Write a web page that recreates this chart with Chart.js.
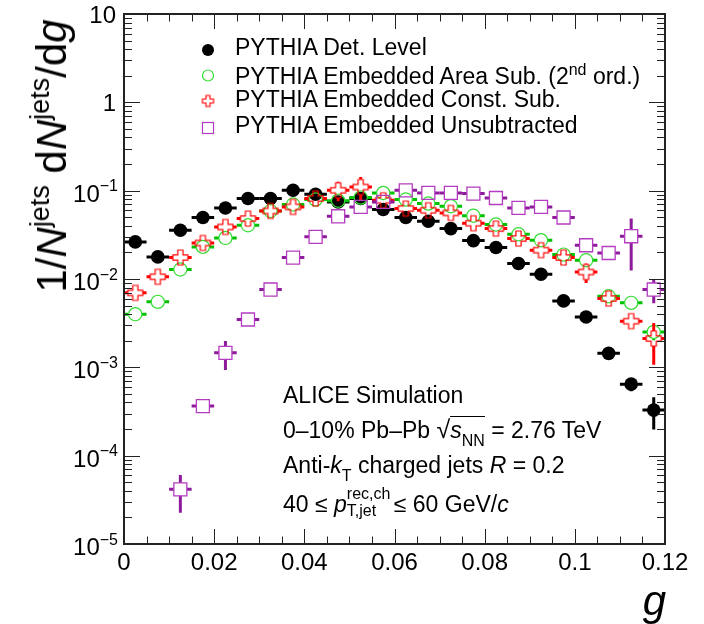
<!DOCTYPE html>
<html>
<head>
<meta charset="utf-8">
<script src="https://cdn.jsdelivr.net/npm/chart.js@4.4.1/dist/chart.umd.min.js"></script>
<style>
  html, body { margin: 0; padding: 0; background: #fff; }
  #wrap { position: relative; width: 704px; height: 624px; overflow: hidden;
          font-family: "Liberation Sans", Arial, Helvetica, sans-serif; color: #000; }
  #plot { position: absolute; left: 0; top: 0; }
  .t { position: absolute; white-space: nowrap; line-height: 1; font-size: 23px; }
  .sub { font-size: 16px; vertical-align: -8px; }
  .sup { font-size: 16px; vertical-align: 9px; }
  .rad { font-size: 25px; }
  .over { border-top: 1.2px solid #000; padding-top: 0px; }
  .stack { display: inline-block; position: relative; width: 47px; height: 1em; }
  .stack .up { position: absolute; left: 0; top: -3px; font-size: 16px; }
  .stack .dn { position: absolute; left: 0; top: 14px; font-size: 16px; }
  #ytitle { position: absolute; left: 50px; top: 156px; font-size: 42px; line-height: 1;
            white-space: nowrap; transform: translate(-50%, -50%) rotate(-90deg); }
  #ytitle .sp { font-size: 27px; vertical-align: 17px; }
  #xtitle { position: absolute; right: 38px; top: 580px; font-size: 42px; line-height: 1; font-style: italic; }
</style>
</head>
<body>
<div id="wrap">
  <canvas id="plot" width="704" height="624" style="width:704px;height:624px"></canvas>

  <div id="ytitle">1/<i>N</i><span class="sp">jets</span> d<i>N</i><span class="sp">jets</span>/d<i>g</i></div>
  <div id="xtitle">g</div>

  <div class="t" style="left:235px; top:36px">PYTHIA Det. Level</div>
  <div class="t" style="left:235px; top:62px">PYTHIA Embedded Area Sub. (2<span class="sup">nd</span> ord.)</div>
  <div class="t" style="left:235px; top:88px">PYTHIA Embedded Const. Sub.</div>
  <div class="t" style="left:235px; top:114px">PYTHIA Embedded Unsubtracted</div>

  <div class="t" style="left:283px; top:384px">ALICE Simulation</div>
  <div class="t" style="left:283px; top:417px">0–10% Pb–Pb <span class="rad">√</span><span class="over"><i>s</i><span class="sub">NN</span></span> = 2.76 TeV</div>
  <div class="t" style="left:283px; top:454px">Anti-<i>k</i><span class="sub">T</span> charged jets <i>R</i> = 0.2</div>
  <div class="t" style="left:283px; top:489px">40 ≤ <i>p</i><span class="stack"><span class="up">rec,ch</span><span class="dn">T,jet</span></span>≤ 60 GeV/<i>c</i></div>
</div>

<script>
// Bin centres of the g distribution (bin width 0.005)
const gCenters = [0.0025, 0.0075, 0.0125, 0.0175, 0.0225, 0.0275, 0.0325, 0.0375,
                  0.0425, 0.0475, 0.0525, 0.0575, 0.0625, 0.0675, 0.0725, 0.0775,
                  0.0825, 0.0875, 0.0925, 0.0975, 0.1025, 0.1075, 0.1125, 0.1175];
const binHalfWidth = 0.0025;

// 1/N dN/dg per bin, with statistical uncertainties
const detLevel = [0.0263, 0.0178, 0.0356, 0.0497, 0.0637, 0.0815, 0.0815, 0.101,
                  0.091, 0.0745, 0.0815, 0.0611, 0.0497, 0.0451, 0.0372, 0.0272,
                  0.0227, 0.0150, 0.0113, 0.00565, 0.00372, 0.00144, 0.000645, 0.000328];
const detLevelErr = [0.0005, 0.0004, 0.0006, 0.0008, 0.0009, 0.001, 0.001, 0.0012,
                     0.0011, 0.001, 0.001, 0.0009, 0.0008, 0.0008, 0.0007, 0.0006,
                     0.0005, 0.0004, 0.0003, 0.0002, 0.00018, 0.0001, 0.00011, 0.00013];

const areaSub = [0.0040, 0.00551, 0.0128, 0.0231, 0.0292, 0.0406, 0.0589, 0.0697,
                 0.0793, 0.077, 0.0836, 0.0942, 0.0793, 0.0715, 0.0667, 0.052,
                 0.0414, 0.0321, 0.0275, 0.0189, 0.0163, 0.00638, 0.00537, 0.00252];
const areaSubErr = [0.0002, 0.0003, 0.0005, 0.0007, 0.0008, 0.001, 0.0011, 0.0012,
                    0.0013, 0.0013, 0.0013, 0.0014, 0.0013, 0.0012, 0.0012, 0.0011,
                    0.001, 0.0009, 0.0008, 0.0007, 0.0006, 0.0004, 0.0008, 0.0005];

const constSub = [0.00697, 0.0106, 0.0175, 0.0256, 0.0388, 0.0483, 0.0589, 0.0655,
                  0.0815, 0.101, 0.110, 0.0778, 0.0627, 0.060, 0.056, 0.0428,
                  0.0372, 0.0287, 0.0212, 0.0175, 0.0120, 0.00601, 0.00333, 0.00212];
const constSubErr = [0.0003, 0.0004, 0.0006, 0.0009, 0.0012, 0.0014, 0.0016, 0.0018,
                     0.002, 0.025, 0.033, 0.002, 0.0018, 0.0017, 0.0016, 0.0014,
                     0.0013, 0.0012, 0.001, 0.001, 0.003, 0.0006, 0.0005, 0.00105];

const unsubtracted = [null, null, 4.16e-5, 3.64e-4, 1.46e-3, 3.48e-3, 7.6e-3, 0.0175,
                      0.030, 0.0513, 0.0655, 0.0745, 0.101, 0.0942, 0.0942, 0.0927,
                      0.0826, 0.0637, 0.0655, 0.0497, 0.0241, 0.0197, 0.0305, 0.0076];
const unsubtractedErr = [null, null, 1.9e-5, 4e-5, 5.3e-4, 5e-4, 7e-4, 0.0012,
                         0.0016, 0.002, 0.0022, 0.0024, 0.0028, 0.0027, 0.0027, 0.0027,
                         0.0025, 0.0022, 0.0023, 0.0022, 0.002, 0.0018, 0.018, 0.0023];

// Axis ticks
const xMajorTicks = [0, 0.02, 0.04, 0.06, 0.08, 0.1, 0.12];
const xTickLabels = ['0', '0.02', '0.04', '0.06', '0.08', '0.1', '0.12'];
const xMinorStep = 0.005;
const yDecades = [-5, -4, -3, -2, -1, 0, 1];
const yLabelBase = ['10', '10', '10', '10', '10', '1', '10'];
const yLabelExp = ['\u22125', '\u22124', '\u22123', '\u22122', '\u22121', '', ''];

const FONT = '"Liberation Sans", Arial, Helvetica, sans-serif';

function toPoints(vals, errs) {
  const pts = [];
  vals.forEach((v, i) => { if (v !== null) pts.push({ x: gCenters[i], y: v, e: errs[i] }); });
  return pts;
}

// Open-cross marker
function crossCanvas(half, arm, color, lw) {
  const s = Math.ceil(2 * half + 4);
  const c = document.createElement('canvas');
  c.width = s; c.height = s;
  const g = c.getContext('2d');
  const m = s / 2;
  g.strokeStyle = color; g.lineWidth = lw;
  g.beginPath();
  g.moveTo(m - arm, m - half); g.lineTo(m + arm, m - half); g.lineTo(m + arm, m - arm);
  g.lineTo(m + half, m - arm); g.lineTo(m + half, m + arm); g.lineTo(m + arm, m + arm);
  g.lineTo(m + arm, m + half); g.lineTo(m - arm, m + half); g.lineTo(m - arm, m + arm);
  g.lineTo(m - half, m + arm); g.lineTo(m - half, m - arm); g.lineTo(m - arm, m - arm);
  g.closePath(); g.stroke();
  return c;
}

// Error bars drawn just before each dataset's markers, leaving a gap at the marker
const errorBars = {
  id: 'errorBars',
  beforeDatasetDraw(chart, args) {
    const ds = chart.data.datasets[args.index];
    const xs = chart.scales.x, ys = chart.scales.y, a = chart.chartArea;
    const ctx = chart.ctx;
    ctx.save();
    ctx.beginPath(); ctx.rect(a.left, a.top, a.right - a.left, a.bottom - a.top); ctx.clip();
    ctx.strokeStyle = ds.barColor; ctx.lineWidth = 3; ctx.lineCap = 'butt';
    const h = ds.gap;
    ds.data.forEach(p => {
      const cx = xs.getPixelForValue(p.x), cy = ys.getPixelForValue(p.y);
      const xl = xs.getPixelForValue(p.x - binHalfWidth), xr = xs.getPixelForValue(p.x + binHalfWidth);
      const yt = ys.getPixelForValue(p.y + p.e), yb = ys.getPixelForValue(p.y - p.e);
      ctx.beginPath();
      if (cx - h > xl) { ctx.moveTo(xl, cy); ctx.lineTo(cx - h, cy); }
      if (xr > cx + h) { ctx.moveTo(cx + h, cy); ctx.lineTo(xr, cy); }
      if (yt < cy - h) { ctx.moveTo(cx, cy - h); ctx.lineTo(cx, yt); }
      if (yb > cy + h) { ctx.moveTo(cx, cy + h); ctx.lineTo(cx, yb); }
      ctx.stroke();
    });
    ctx.restore();
  }
};

// Frame, inward ticks, tick labels and legend markers
const frameAxes = {
  id: 'frameAxes',
  afterDraw(chart) {
    const ctx = chart.ctx, a = chart.chartArea;
    const xs = chart.scales.x, ys = chart.scales.y;
    ctx.save();
    ctx.strokeStyle = '#222';
    // ticks
    ctx.lineWidth = 1;
    ctx.beginPath();
    const nMinor = Math.round(0.12 / xMinorStep);
    for (let k = 0; k <= nMinor; k++) {
      const v = k * xMinorStep;
      const major = xMajorTicks.some(t => Math.abs(t - v) < 1e-9);
      const len = major ? 15 : 7.5;
      const px = Math.round(xs.getPixelForValue(v)) + 0.5;
      ctx.moveTo(px, a.bottom); ctx.lineTo(px, a.bottom - len);
      ctx.moveTo(px, a.top); ctx.lineTo(px, a.top + len);
    }
    yDecades.forEach(d => {
      for (let m = 1; m <= 9; m++) {
        const v = m * Math.pow(10, d);
        if (v > 10 + 1e-9) break;
        const len = m === 1 ? 16 : 8;
        const py = Math.round(ys.getPixelForValue(v)) + 0.5;
        ctx.moveTo(a.left, py); ctx.lineTo(a.left + len, py);
        ctx.moveTo(a.right, py); ctx.lineTo(a.right - len, py);
      }
    });
    ctx.stroke();
    // frame
    ctx.lineWidth = 2;
    ctx.strokeRect(a.left, a.top, a.right - a.left, a.bottom - a.top);

    // x tick labels
    ctx.fillStyle = '#000';
    ctx.font = '24px ' + FONT;
    ctx.textAlign = 'center'; ctx.textBaseline = 'alphabetic';
    xMajorTicks.forEach((v, i) => {
      ctx.fillText(xTickLabels[i], xs.getPixelForValue(v), a.bottom + 26);
    });
    // y tick labels
    yDecades.forEach((d, i) => {
      const py = ys.getPixelForValue(Math.pow(10, d));
      const rightEdge = a.left - 6;
      if (yLabelExp[i]) {
        ctx.font = '16px ' + FONT;
        ctx.textAlign = 'right';
        const ew = ctx.measureText(yLabelExp[i]).width;
        ctx.fillText(yLabelExp[i], rightEdge, py + 0.5);
        ctx.font = '24px ' + FONT;
        ctx.fillText(yLabelBase[i], rightEdge - ew, py + 11);
      } else {
        ctx.font = '24px ' + FONT;
        ctx.textAlign = 'right';
        ctx.fillText(yLabelBase[i], rightEdge - 2, py + 8.5);
      }
    });

    // legend markers
    const lx = 208;
    ctx.fillStyle = '#000';
    ctx.beginPath(); ctx.arc(lx, 50, 6, 0, 2 * Math.PI); ctx.fill();
    ctx.strokeStyle = '#33dd33'; ctx.lineWidth = 1.2;
    ctx.beginPath(); ctx.arc(lx, 75.5, 5.5, 0, 2 * Math.PI); ctx.stroke();
    ctx.drawImage(crossCanvas(5.5, 2, '#ff0000', 1.2), lx - 7.5, 101 - 7.5);
    ctx.strokeStyle = '#b43cc0'; ctx.lineWidth = 1.2;
    ctx.strokeRect(lx - 5.5, 128 - 5.5, 11, 11);
    ctx.restore();
  }
};

const crossMarker = crossCanvas(7.5, 2.6, '#ff0000', 1.2);

new Chart(document.getElementById('plot'), {
  type: 'scatter',
  data: {
    datasets: [
      {
        label: 'PYTHIA Det. Level',
        data: toPoints(detLevel, detLevelErr),
        pointStyle: 'circle', pointRadius: 6.8,
        pointBackgroundColor: '#000', pointBorderColor: '#000', pointBorderWidth: 0,
        barColor: '#000', gap: 0, order: 4
      },
      {
        label: 'PYTHIA Embedded Area Sub. (2nd ord.)',
        data: toPoints(areaSub, areaSubErr),
        pointStyle: 'circle', pointRadius: 6.6,
        pointBackgroundColor: 'rgba(0,0,0,0)', pointBorderColor: '#33dd33', pointBorderWidth: 1.2,
        barColor: '#00c000', gap: 6.6, order: 3
      },
      {
        label: 'PYTHIA Embedded Const. Sub.',
        data: toPoints(constSub, constSubErr),
        pointStyle: crossMarker, pointRadius: 7.5,
        barColor: '#ff0000', gap: 7.5, order: 2
      },
      {
        label: 'PYTHIA Embedded Unsubtracted',
        data: toPoints(unsubtracted, unsubtractedErr),
        pointStyle: 'rect', pointRadius: 9.2,
        pointBackgroundColor: 'rgba(0,0,0,0)', pointBorderColor: '#b43cc0', pointBorderWidth: 1.3,
        barColor: '#8e1a9c', gap: 6.5, order: 1
      }
    ]
  },
  options: {
    responsive: false,
    animation: false,
    events: [],
    layout: { padding: { left: 124, right: 39, top: 14, bottom: 80 } },
    scales: {
      x: { type: 'linear', min: 0, max: 0.12, display: false },
      y: { type: 'logarithmic', min: 1e-5, max: 10, display: false }
    },
    plugins: { legend: { display: false }, tooltip: { enabled: false } }
  },
  plugins: [errorBars, frameAxes]
});
</script>
</body>
</html>
